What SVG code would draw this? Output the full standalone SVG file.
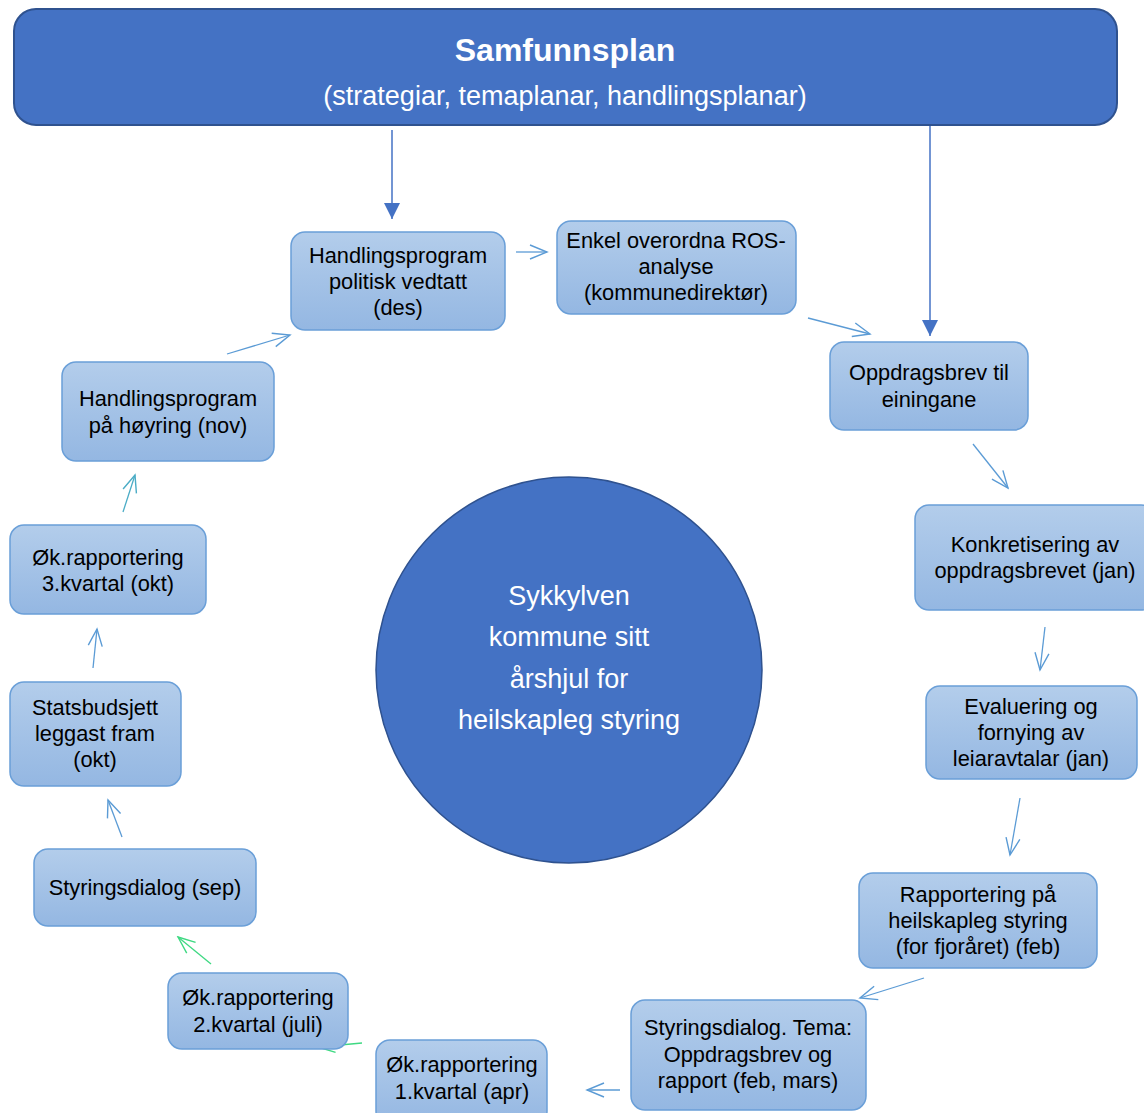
<svg xmlns="http://www.w3.org/2000/svg" width="1144" height="1113" viewBox="0 0 1144 1113">
<defs>
<linearGradient id="g" x1="0" y1="0" x2="0" y2="1">
<stop offset="0" stop-color="#B3CDEB"/>
<stop offset="1" stop-color="#94B7E2"/>
</linearGradient>
<marker id="openb" markerUnits="userSpaceOnUse" markerWidth="22" markerHeight="22" viewBox="0 0 22 22" refX="20" refY="11" orient="auto">
<path d="M3,4 L20,11 L3,18" fill="none" stroke="#5B9BD5" stroke-width="1.4"/>
</marker>
<marker id="openc" markerUnits="userSpaceOnUse" markerWidth="22" markerHeight="22" viewBox="0 0 22 22" refX="20" refY="11" orient="auto">
<path d="M3,4 L20,11 L3,18" fill="none" stroke="#4BACC6" stroke-width="1.4"/>
</marker>
<marker id="openg" markerUnits="userSpaceOnUse" markerWidth="22" markerHeight="22" viewBox="0 0 22 22" refX="20" refY="11" orient="auto">
<path d="M3,4 L20,11 L3,18" fill="none" stroke="#3ED982" stroke-width="1.4"/>
</marker>
<marker id="solid" markerUnits="userSpaceOnUse" markerWidth="20" markerHeight="20" viewBox="0 0 20 20" refX="18" refY="10" orient="auto">
<path d="M2,2 L18,10 L2,18 Z" fill="#4472C4"/>
</marker>
</defs>
<style>
.node rect { fill: url(#g); stroke: #6A9FD8; stroke-width: 1.5; }
.node text { font-family: "Liberation Sans", Arial, sans-serif; font-size: 21.8px; fill: #000; text-anchor: middle; }
.c { fill: none; stroke: #5B9BD5; stroke-width: 1.3; marker-end: url(#openb); }
.cc { fill: none; stroke: #4BACC6; stroke-width: 1.3; marker-end: url(#openc); }
.cg { fill: none; stroke: #3ED982; stroke-width: 1.3; marker-end: url(#openg); }
.cs { fill: none; stroke: #4472C4; stroke-width: 1.5; marker-end: url(#solid); }
.w { font-family: "Liberation Sans", Arial, sans-serif; fill: #fff; text-anchor: middle; }
</style>
<rect width="1144" height="1113" fill="#fff"/>

<g id="connectors">
<line class="cs" x1="392" y1="130" x2="392" y2="219"/>
<line class="cs" x1="930" y1="126" x2="930" y2="336"/>
<line class="c" x1="516" y1="252" x2="547" y2="252"/>
<line class="c" x1="808" y1="318" x2="870" y2="334"/>
<line class="c" x1="973" y1="444" x2="1008" y2="488"/>
<line class="c" x1="1045" y1="627" x2="1040" y2="670"/>
<line class="c" x1="1020" y1="798" x2="1010" y2="855"/>
<line class="c" x1="924" y1="978" x2="860" y2="998"/>
<line class="c" x1="620" y1="1090" x2="587" y2="1090"/>
<line class="cg" x1="362" y1="1043" x2="318" y2="1047"/>
<line class="cg" x1="211" y1="964" x2="178" y2="937"/>
<line class="c" x1="122" y1="837" x2="108" y2="800"/>
<line class="c" x1="93" y1="668" x2="97" y2="629"/>
<line class="cc" x1="123" y1="512" x2="135" y2="475"/>
<line class="c" x1="227" y1="354" x2="290" y2="335"/>
</g>

<g id="samfunnsplan">
<rect x="14" y="9" width="1103" height="116" rx="22" fill="#4472C4" stroke="#2F528F" stroke-width="2"/>
<text class="w" x="565" y="61" font-size="32" font-weight="bold">Samfunnsplan</text>
<text class="w" x="565" y="105" font-size="27">(strategiar, temaplanar, handlingsplanar)</text>
</g>

<g id="centre">
<circle cx="569" cy="670" r="193" fill="#4472C4" stroke="#2F528F" stroke-width="1.5"/>
<text class="w" font-size="27"><tspan x="569" y="605">Sykkylven</tspan><tspan x="569" y="646">kommune sitt</tspan><tspan x="569" y="688">årshjul for</tspan><tspan x="569" y="729">heilskapleg styring</tspan></text>
</g>

<g id="n1" class="node"><rect x="291" y="232" width="214" height="98" rx="14"/>
<text><tspan x="398" y="263">Handlingsprogram</tspan><tspan x="398" y="289">politisk vedtatt</tspan><tspan x="398" y="315">(des)</tspan></text></g>

<g id="n2" class="node"><rect x="557" y="221" width="239" height="93" rx="14"/>
<text><tspan x="676" y="248">Enkel overordna ROS-</tspan><tspan x="676" y="274">analyse</tspan><tspan x="676" y="300">(kommunedirektør)</tspan></text></g>

<g id="n3" class="node"><rect x="830" y="342" width="198" height="88" rx="14"/>
<text><tspan x="929" y="380">Oppdragsbrev til</tspan><tspan x="929" y="407">einingane</tspan></text></g>

<g id="n4" class="node"><rect x="915" y="505" width="240" height="105" rx="14"/>
<text><tspan x="1035" y="552">Konkretisering av</tspan><tspan x="1035" y="578">oppdragsbrevet (jan)</tspan></text></g>

<g id="n5" class="node"><rect x="926" y="686" width="211" height="93" rx="14"/>
<text><tspan x="1031" y="714">Evaluering og</tspan><tspan x="1031" y="740">fornying av</tspan><tspan x="1031" y="766">leiaravtalar (jan)</tspan></text></g>

<g id="n6" class="node"><rect x="859" y="873" width="238" height="95" rx="14"/>
<text><tspan x="978" y="902">Rapportering på</tspan><tspan x="978" y="928">heilskapleg styring</tspan><tspan x="978" y="954">(for fjoråret) (feb)</tspan></text></g>

<g id="n7" class="node"><rect x="631" y="1000" width="235" height="110" rx="14"/>
<text><tspan x="748" y="1035">Styringsdialog. Tema:</tspan><tspan x="748" y="1062">Oppdragsbrev og</tspan><tspan x="748" y="1088">rapport (feb, mars)</tspan></text></g>

<g id="n8" class="node"><rect x="376" y="1040" width="171" height="85" rx="14"/>
<text><tspan x="462" y="1072">Øk.rapportering</tspan><tspan x="462" y="1099">1.kvartal (apr)</tspan></text></g>

<g id="n9" class="node"><rect x="168" y="973" width="180" height="76" rx="14"/>
<text><tspan x="258" y="1005">Øk.rapportering</tspan><tspan x="258" y="1032">2.kvartal (juli)</tspan></text></g>

<g id="n10" class="node"><rect x="34" y="849" width="222" height="77" rx="14"/>
<text><tspan x="145" y="895">Styringsdialog (sep)</tspan></text></g>

<g id="n11" class="node"><rect x="10" y="682" width="171" height="104" rx="14"/>
<text><tspan x="95" y="715">Statsbudsjett</tspan><tspan x="95" y="741">leggast fram</tspan><tspan x="95" y="767">(okt)</tspan></text></g>

<g id="n12" class="node"><rect x="10" y="525" width="196" height="89" rx="14"/>
<text><tspan x="108" y="565">Øk.rapportering</tspan><tspan x="108" y="591">3.kvartal (okt)</tspan></text></g>

<g id="n13" class="node"><rect x="62" y="362" width="212" height="99" rx="14"/>
<text><tspan x="168" y="406">Handlingsprogram</tspan><tspan x="168" y="433">på høyring (nov)</tspan></text></g>
</svg>
